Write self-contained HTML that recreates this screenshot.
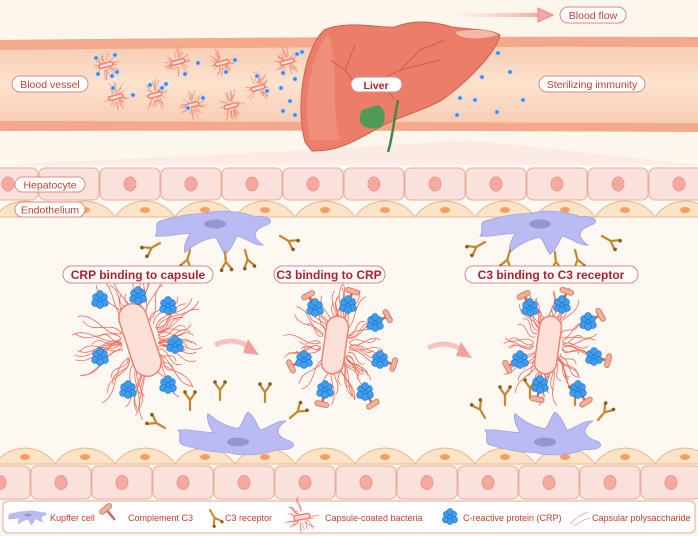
<!DOCTYPE html>
<html><head><meta charset="utf-8"><style>
html,body{margin:0;padding:0;background:#fdf6ec;}
svg{display:block;font-family:"Liberation Sans",sans-serif;}
</style></head><body>
<svg id="s" width="698" height="536" viewBox="0 0 698 536" xmlns="http://www.w3.org/2000/svg">
<defs>
<linearGradient id="ves" x1="0" y1="0" x2="0" y2="1">
<stop offset="0" stop-color="#f8c7ae"/><stop offset="0.5" stop-color="#fde3cf"/><stop offset="1" stop-color="#f8c7ae"/>
</linearGradient>
<linearGradient id="arr" x1="0" x2="1"><stop offset="0" stop-color="#fbe3e0" stop-opacity="0"/><stop offset="1" stop-color="#f6a5a0"/></linearGradient>
</defs>
<rect width="698" height="536" fill="#fdf6ec"/>
<rect y="160" width="698" height="300" fill="#fdf8f2"/>
<rect x="440" y="13" width="100" height="4" fill="url(#arr)"/>
<path d="M538 8 L553 15 L538 22 Z" fill="#f6a5a0" stroke="#ee8a86"/>
<path d="M0 40 Q350 36 698 37 L698 132 Q350 130 0 130 Z" fill="url(#ves)"/>
<path d="M0 40 Q350 36 698 37 L698 47 Q350 46 0 50 Z" fill="#f4a88c"/>
<path d="M0 121 Q350 122 698 123 L698 132 Q350 130 0 131 Z" fill="#f4a88c"/>
<path d="M310 150 L0 165 L698 165 L470 140 Z" fill="#fbe6e2" opacity="0.7"/>
<g id="dyn"></g>
<path d="M305 142 C296 110 302 52 324 30 C345 20 378 28 395 27 C412 20 432 21 452 27 C475 30 490 29 500 35 C496 52 470 80 442 100 C420 112 400 116 382 126 C360 138 340 152 312 151 Z" fill="#ec7d68" stroke="#c9624f" stroke-width="1"/>
<path d="M310 140 C302 105 310 55 328 34 C340 60 330 110 340 140 Z" fill="#f19a86" opacity="0.6"/>
<path d="M455 32 C475 28 492 30 498 35 C480 40 460 40 455 32Z" fill="#f8b8a8"/>
<path d="M330 60 L345 70 L360 90 M345 70 L355 45 M360 90 L400 70 L420 50 M400 70 L440 60 M420 50 L445 40 M380 80 L395 100" stroke="#c5624f" stroke-width="1" fill="none"/>
<path d="M362 110 C355 125 365 130 380 128 C388 120 385 108 378 105 Z" fill="#4f9a57"/>
<path d="M398 100 C394 120 392 140 388 152" stroke="#3e8a4a" stroke-width="2.5" fill="none"/>
<g font-size="10.5" fill="#c2412c" text-anchor="middle">
<rect x="560" y="7" width="66" height="16" rx="8" fill="#fff" stroke="#e08a7a"/><text x="593" y="19">Blood flow</text>
<rect x="12" y="76" width="76" height="16" rx="8" fill="#fff" stroke="#e08a7a"/><text x="50" y="88">Blood vessel</text>
<rect x="539" y="76" width="106" height="16" rx="8" fill="#fff" stroke="#e08a7a"/><text x="592" y="88">Sterilizing immunity</text>
<rect x="351" y="77" width="51" height="15" rx="7.5" fill="#fff" stroke="#e08a7a"/><text x="376" y="89" font-weight="bold" fill="#b0202a">Liver</text>
</g>
<g id="dyn2"></g>
<g font-size="10.5" fill="#c2412c" text-anchor="middle">
<rect x="15" y="177" width="70" height="15" rx="7.5" fill="#fff" stroke="#e08a7a"/><text x="50" y="188.5">Hepatocyte</text>
<rect x="15" y="202" width="70" height="15" rx="7.5" fill="#fff" stroke="#e08a7a"/><text x="50" y="213.5">Endothelium</text>
</g>
<g font-size="12" font-weight="bold" fill="#b0202a" text-anchor="middle">
<rect x="63" y="266" width="150" height="17" rx="8.5" fill="#fff" stroke="#d88a80"/><text x="138" y="279">CRP binding to capsule</text>
<rect x="274" y="266" width="111" height="17" rx="8.5" fill="#fff" stroke="#d88a80"/><text x="329" y="279">C3 binding to CRP</text>
<rect x="465" y="266" width="173" height="17" rx="8.5" fill="#fff" stroke="#d88a80"/><text x="551" y="279">C3 binding to C3 receptor</text>
</g>
<rect x="3" y="501" width="692" height="32" rx="5" fill="#fff" stroke="#e8a898"/>
<g id="leg"></g>
<g font-size="9" fill="#c2412c">
<text x="50" y="521">Kupffer cell</text>
<text x="128" y="521">Complement C3</text>
<text x="225" y="521">C3 receptor</text>
<text x="325" y="521">Capsule-coated bacteria</text>
<text x="463" y="521">C-reactive protein (CRP)</text>
<text x="592" y="521">Capsular polysaccharide</text>
</g>
</svg>
<script>
var NS="http://www.w3.org/2000/svg";
var dyn=document.getElementById('dyn'),dyn2=document.getElementById('dyn2'),leg=document.getElementById('leg');
function el(p,t,a){var e=document.createElementNS(NS,t);for(var k in a)e.setAttribute(k,a[k]);p.appendChild(e);return e;}
var seed=7;function rnd(){seed=(seed*9301+49297)%233280;return seed/233280;}
function crpDot(p,x,y){el(p,'circle',{cx:x,cy:y,r:2.3,fill:'#3a86e8',stroke:'#bcd8fb','stroke-width':1});}
function hair(p,cx,cy,R,n,sw,col){for(var i=0;i<n;i++){var a=rnd()*6.283,r1=R*0.3,r2=R*(0.65+rnd()*0.45);
var ca=Math.cos(a),sa=Math.sin(a);
var x1=cx+ca*r1,y1=cy+sa*r1*1.2,x2=cx+ca*r2,y2=cy+sa*r2*1.2;
var w=R*0.18*(rnd()>.5?1:-1);
var m1x=x1+(x2-x1)*0.33-sa*w,m1y=y1+(y2-y1)*0.33+ca*w,m2x=x1+(x2-x1)*0.66+sa*w,m2y=y1+(y2-y1)*0.66-ca*w;
el(p,'path',{d:'M'+x1+' '+y1+' C'+m1x+' '+m1y+' '+m2x+' '+m2y+' '+x2+' '+y2,stroke:col||'#f26a5c','stroke-width':sw,fill:'none'});}}
function rod(p,cx,cy,w,h,ang){el(p,'rect',{x:cx-w/2,y:cy-h/2,width:w,height:h,rx:w/2,fill:'#fde0d8',stroke:'#f08070','stroke-width':1.5,transform:'rotate('+ang+' '+cx+' '+cy+')'});}
[[106,65],[116,97],[178,62],[155,95],[222,63],[192,105],[231,106],[258,88],[287,62]].forEach(function(b){
hair(dyn,b[0],b[1],13,26,0.6,'#f4886e');rod(dyn,b[0],b[1],4,14,75);});
[[96,58],[115,55],[98,74],[112,76],[117,72],[113,88],[133,95],[162,88],[150,85],[166,84],[198,63],[185,74],[188,108],[203,98],[235,60],[226,72],[257,76],[267,91],[297,54],[302,52],[283,73],[295,79],[281,88],[290,101],[283,111],[295,115],
[498,53],[510,72],[482,77],[475,100],[460,98],[457,115],[497,112],[523,100]].forEach(function(d){crpDot(dyn,d[0],d[1]);});
function hepRow(y,h,off){for(var x=off;x<698;x+=61){el(dyn2,'rect',{x:x,y:y,width:60,height:h,rx:6,fill:'#fbe1dc',stroke:'#e9aea0','stroke-width':1});
el(dyn2,'ellipse',{cx:x+30,cy:y+h/2,rx:6,ry:7,fill:'#f5aaa0',stroke:'#ee9890'});}}
function endoRow(y,off){for(var x=off;x<698;x+=60){el(dyn2,'path',{d:'M'+x+' '+(y+17)+' Q'+(x+10)+' '+(y+2)+' '+(x+30)+' '+(y+1)+' Q'+(x+50)+' '+(y+2)+' '+(x+60)+' '+(y+17)+' Z',fill:'#fbe3c8',stroke:'#e8b890','stroke-width':1});
el(dyn2,'ellipse',{cx:x+30,cy:y+10,rx:5,ry:3,fill:'#f5a060'});}}
hepRow(168,32,-22);endoRow(200,-5);
endoRow(447,-5);hepRow(466,33,-30);
function kupffer(p,cx,cy,s,flip,sy){sy=sy||s;var g=el(p,'g',{transform:'translate('+cx+' '+cy+') scale('+s+' '+(flip?-sy:sy)+')'});
el(g,'path',{d:'M-55 -12 C-40 -18 -25 -22 -10 -22 C5 -28 25 -25 40 -18 C55 -20 62 -10 48 -5 C40 0 35 8 48 20 C40 22 30 10 22 8 C18 18 15 28 10 32 C5 25 5 15 0 10 C-10 12 -20 18 -30 30 C-32 22 -28 12 -25 5 C-35 4 -50 10 -60 8 C-55 0 -62 -8 -55 -12 Z',fill:'#b9bbf2',stroke:'#a2a4e4','stroke-width':1});
el(g,'ellipse',{cx:0,cy:-8,rx:11,ry:6,fill:'#9496cc'});return g;}
function receptor(p,x,y,ang,s){var g=el(p,'g',{transform:'translate('+x+' '+y+') rotate('+ang+') scale('+(s||1)+')'});
el(g,'path',{d:'M0 0 L0 10 M0 10 L-5 17 M0 10 L5 17',stroke:'#c8862a','stroke-width':2.2,fill:'none','stroke-linecap':'round'});
el(g,'circle',{cx:-5,cy:18,r:1.8,fill:'#8a5a20'});el(g,'circle',{cx:5,cy:18,r:1.8,fill:'#8a5a20'});return g;}
kupffer(dyn2,215,230,1,false,0.75);kupffer(dyn2,540,230,1,false,0.75);
[[160,243,60],[190,250,15],[225,252,-5],[245,250,-15],[280,236,-60]].forEach(function(r){receptor(dyn2,r[0],r[1],r[2]);});
[[485,242,60],[510,250,15],[555,252,-5],[575,250,-15],[602,236,-60]].forEach(function(r){receptor(dyn2,r[0],r[1],r[2]);});
kupffer(dyn2,238,436,1,true,0.75);kupffer(dyn2,545,436,1,true,0.75);
[[165,428,120],[190,410,180],[220,400,180],[265,402,180],[290,418,-130]].forEach(function(r){receptor(dyn2,r[0],r[1],r[2]);});
[[485,418,150],[505,405,180],[530,398,180],[575,405,180],[598,420,-140]].forEach(function(r){receptor(dyn2,r[0],r[1],r[2]);});
function crp(p,x,y,s){s=s||1;[[0,0],[-4,-3],[4,-3],[-5,3],[5,3],[0,5],[0,-6]].forEach(function(o){el(p,'circle',{cx:x+o[0]*s,cy:y+o[1]*s,r:3.4*s,fill:'#3d9ef0',stroke:'#1f6fc8','stroke-width':0.6});});}
function c3(p,x,y,ang){var g=el(p,'g',{transform:'translate('+x+' '+y+') rotate('+ang+')'});
el(g,'line',{x1:0,y1:0,x2:0,y2:-12,stroke:'#c0705a','stroke-width':2.5});
el(g,'rect',{x:-7,y:-17,width:14,height:5,rx:2.5,fill:'#f5b09a',stroke:'#d08070'});}
hair(dyn2,140,340,62,70,0.8);rod(dyn2,140,340,28,75,-18);
[[100,300],[138,296],[168,306],[175,345],[100,357],[128,390],[168,385]].forEach(function(c){crp(dyn2,c[0],c[1]);});
hair(dyn2,335,345,48,60,0.8);rod(dyn2,335,345,22,58,8);
[[315,308],[348,305],[375,323],[380,360],[304,360],[325,390],[365,392]].forEach(function(c,i){
var a=Math.atan2(c[1]-345,c[0]-335)*180/Math.PI+90;c3(dyn2,c[0],c[1],a);crp(dyn2,c[0],c[1]);});
hair(dyn2,548,345,48,60,0.8);rod(dyn2,548,345,22,58,8);
[[530,308],[562,305],[588,322],[594,357],[520,360],[540,385],[578,390]].forEach(function(c){
var a=Math.atan2(c[1]-345,c[0]-548)*180/Math.PI+90;c3(dyn2,c[0],c[1],a);crp(dyn2,c[0],c[1]);});
function parr(x,y){el(dyn2,'path',{d:'M'+x+' '+y+' Q'+(x+20)+' '+(y-10)+' '+(x+38)+' '+(y+5),stroke:'#f7b4ae','stroke-width':5,fill:'none',opacity:0.8});
el(dyn2,'path',{d:'M'+(x+33)+' '+(y-6)+' L'+(x+44)+' '+(y+10)+' L'+(x+28)+' '+(y+8)+' Z',fill:'#f4a09a'});}
parr(215,345);parr(428,348);
kupffer(leg,28,517,0.33,false,0.25);
c3(leg,115,520,-40);receptor(leg,210,510,-30,0.9);
hair(leg,302,517,16,20,0.6);rod(leg,302,517,5,16,80);
crp(leg,450,517,0.9);
el(leg,'path',{d:'M570 524 Q578 515 588 512 M574 526 Q582 520 590 518',stroke:'#f0a0a0','stroke-width':0.8,fill:'none'});
</script>
</body></html>
